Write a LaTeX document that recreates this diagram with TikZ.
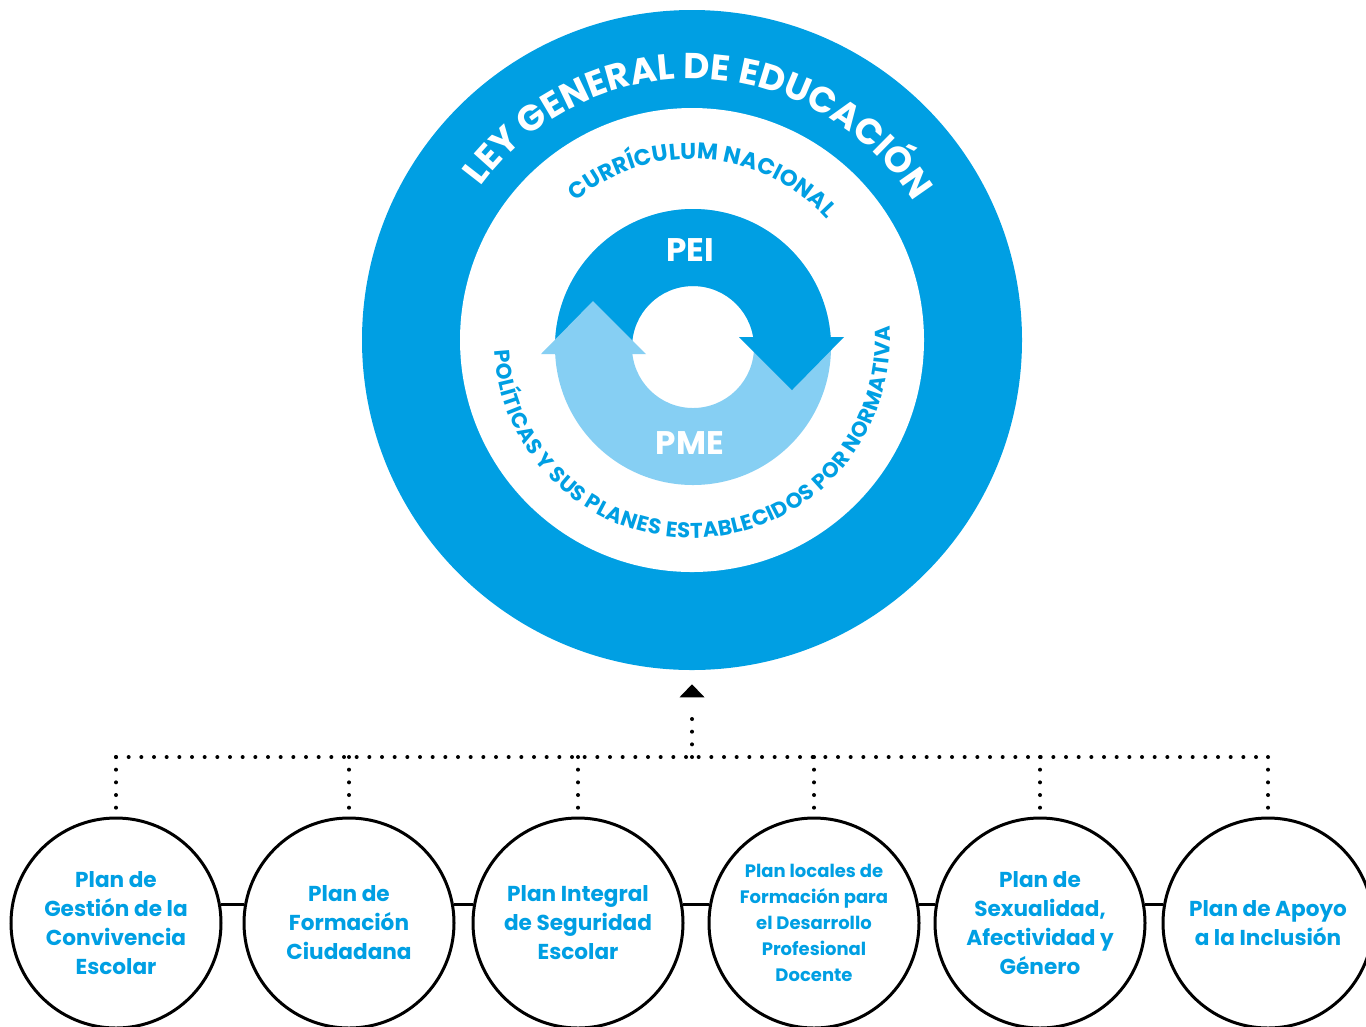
\documentclass[tikz,border=0pt]{standalone}
\usepackage{fontspec}
\setmainfont{Poppins}
\usetikzlibrary{decorations.text}
\definecolor{leyblue}{RGB}{0,159,227}
\definecolor{pmeblue}{RGB}{134,207,243}

\begin{document}
\begin{tikzpicture}[x=0.75pt,y=0.75pt,
  plan/.style={circle,draw=black,line width=2.25pt,minimum size=157.5pt,inner sep=0pt,
    align=center,text=leyblue,font=\bfseries\fontsize{16.2}{21.75}\selectfont},
  dots/.style={line width=3pt,line cap=round,dash pattern=on 0pt off 9.5pt},
  link/.style={line width=2.25pt}]
\useasboundingbox (0,0) rectangle (1366,-1026);
% outer ring: ley general
\node[circle,fill=leyblue,minimum size=495pt,inner sep=0pt] (ley) at (692,-340) {};
\fill[white] (ley.center) circle[radius=232];
\path[decorate,decoration={text along path,text align=fit to path,
  text={|\bfseries\fontsize{27}{27}\selectfont\color{white}|LEY GENERAL DE EDUCACIÓN}}]
  ([shift={(144:261)}]ley.center) arc[start angle=144,end angle=32,radius=261];
\path[decorate,decoration={text along path,text align=fit to path,
  text={|\bfseries\fontsize{17}{17}\selectfont\color{leyblue}|CURRÍCULUM NACIONAL}}]
  ([shift={(130:181)}]ley.center) arc[start angle=130,end angle=42,radius=181];
\path[decorate,decoration={text along path,text align=fit to path,
  text={|\bfseries\fontsize{16}{16}\selectfont\color{leyblue}|POLÍTICAS Y SUS PLANES ESTABLECIDOS POR NORMATIVA}}]
  ([shift={(183:198)}]ley.center) arc[start angle=183,end angle=364,radius=198];
% cycle PEI / PME
\coordinate (cycle) at (693,-347);
\fill[pmeblue,even odd rule] (cycle) circle[radius=138] (cycle) circle[radius=61];
\fill[leyblue] ([shift={(0:138)}]cycle) arc[start angle=0,end angle=180,radius=138]
  -- ([shift={(180:61)}]cycle) arc[start angle=180,end angle=0,radius=61] -- cycle;
\fill[leyblue] (739,-337) -- (844,-337) -- (792,-390) -- cycle;
\fill[pmeblue] (541,-354) -- (646,-354) -- (593,-301) -- cycle;
\node[text=white,font=\bfseries\fontsize{24.5}{24.5}\selectfont] (pei) at (690,-250) {PEI};
\node[text=white,font=\bfseries\fontsize{24.5}{24.5}\selectfont] (pme) at (690,-443) {PME};
% planes
\node[plan] (convivencia) at (116,-923) {Plan de\\Gestión de la\\Convivencia\\Escolar};
\node[plan] (ciudadana) at (349,-923) {Plan de\\Formación\\Ciudadana};
\node[plan] (seguridad) at (578,-923) {Plan Integral\\de Seguridad\\Escolar};
\node[plan,font=\bfseries\fontsize{13.5}{19.5}\selectfont] (docente) at (814,-923)
  {Plan locales de\\Formación para\\el Desarrollo\\Profesional\\Docente};
\node[plan] (sexualidad) at (1040,-923) {Plan de\\Sexualidad,\\Afectividad y\\Género};
\node[plan] (inclusion) at (1268,-923) {Plan de Apoyo\\a la Inclusión};
\draw[link] (convivencia.10) -- (ciudadana.170);
\draw[link] (ciudadana.10) -- (seguridad.170);
\draw[link] (seguridad.10) -- (docente.170);
\draw[link] (docente.10) -- (sexualidad.170);
\draw[link] (sexualidad.10) -- (inclusion.170);
% dotted bus up to the ley
\coordinate (bus) at (692,-757);
\coordinate (tail) at (692,-708);
\draw[dots] (convivencia.north |- bus) -- (inclusion.north |- bus);
\draw[dots] (convivencia.north |- bus) -- (convivencia.north);
\draw[dots] (ciudadana.north |- bus) -- (ciudadana.north);
\draw[dots] (seguridad.north |- bus) -- (seguridad.north);
\draw[dots] (docente.north |- bus) -- (docente.north);
\draw[dots] (sexualidad.north |- bus) -- (sexualidad.north);
\draw[dots] (inclusion.north |- bus) -- (inclusion.north);
\draw[dots] (bus) -- (tail);
\fill ([yshift=-10.5pt]ley.south) -- ++(12.5,-13) -- ++(-25,0) -- cycle;
\end{tikzpicture}
\end{document}
